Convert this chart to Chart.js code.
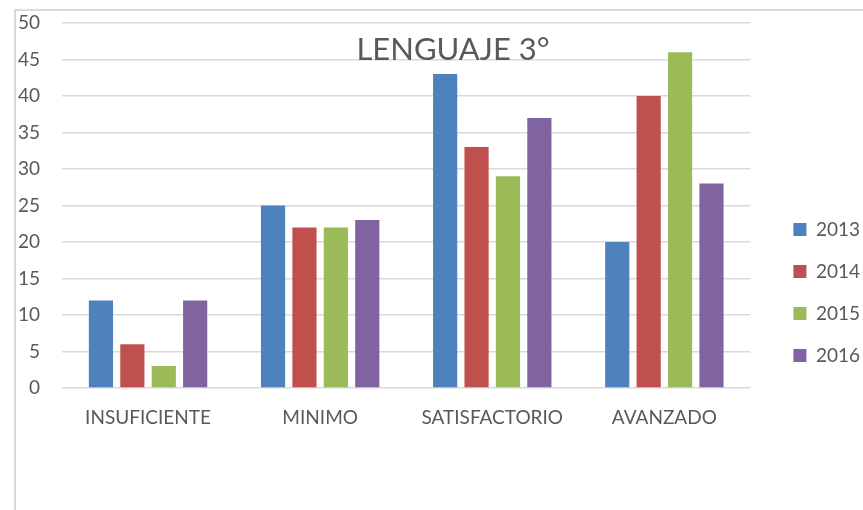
<!DOCTYPE html>
<html lang="es">
<head>
  <meta charset="UTF-8">
  <title>Lenguaje 3°</title>
  <script src="https://cdn.jsdelivr.net/npm/chart.js"></script>
  <style>
    body { margin: 0; background: #fff; }
    #frame {
      position: absolute; left: 14px; top: 9px; right: 0; bottom: 0;
      border-left: 2px solid #d9d9d9; border-top: 2px solid #d9d9d9;
    }
    #chart { position: absolute; left: 0; top: 0; }
  </style>
</head>
<body>
<div id="frame"></div>
<canvas id="chart" width="863" height="510"></canvas>

<script>
  // data
  const categories = ['INSUFICIENTE', 'MINIMO', 'SATISFACTORIO', 'AVANZADO'];
  const years = ['2013', '2014', '2015', '2016'];
  const values2013 = [12, 25, 43, 20];
  const values2014 = [6, 22, 33, 40];
  const values2015 = [3, 22, 29, 46];
  const values2016 = [12, 23, 37, 28];
  const yMax = 50;
  const yStep = 5;
  const chartTitle = 'LENGUAJE 3°';

  const colors = ['#4f81bd', '#c0504d', '#9bbb59', '#8064a2'];
  const textColor = '#595959';
  const font = 'Lato';

  // title sits inside the plot, over the grid
  const insideTitle = {
    id: 'insideTitle',
    afterDraw(chart) {
      const ctx = chart.ctx;
      ctx.save();
      ctx.font = '31px ' + font;
      ctx.fillStyle = textColor;
      ctx.textAlign = 'center';
      ctx.textBaseline = 'middle';
      ctx.fillText(chartTitle, 453, 50);
      ctx.restore();
    }
  };

  const series = [values2013, values2014, values2015, values2016];

  new Chart(document.getElementById('chart'), {
    type: 'bar',
    data: {
      labels: categories,
      datasets: years.map((y, i) => ({
        label: y,
        data: series[i],
        backgroundColor: colors[i],
        categoryPercentage: 0.73,
        barPercentage: 0.77
      }))
    },
    options: {
      responsive: false,
      animation: false,
      layout: { padding: { top: 23, left: 0, right: -7, bottom: 0 } },
      plugins: {
        tooltip: { enabled: false },
        title: { display: false },
        legend: {
          position: 'right',
          align: 'end',
          fullSize: false,
          labels: {
            boxWidth: 13,
            boxHeight: 13,
            padding: 23,
            color: textColor,
            font: { family: font, size: 19 }
          }
        }
      },
      scales: {
        x: {
          grid: { display: false, drawTicks: false },
          border: { display: false },
          ticks: { color: textColor, font: { family: font, size: 19 }, padding: 18 },
          afterFit(s) { s.height = 122; }
        },
        y: {
          min: 0,
          max: yMax,
          ticks: { stepSize: yStep, color: textColor, font: { family: font, size: 19 }, padding: 22 },
          grid: { color: '#d9d9d9', lineWidth: 1.5, drawTicks: false },
          border: { display: false },
          afterFit(s) {
            s.width = 62;
            s.paddingTop = 0;
            s.paddingBottom = 0;
          }
        },
        // empty right axis, only keeps the gap before the legend
        y2: {
          position: 'right',
          display: true,
          grid: { display: false, drawTicks: false },
          border: { display: false },
          ticks: { display: false },
          afterFit(s) { s.width = 20; }
        }
      }
    },
    plugins: [insideTitle]
  });
</script>
</body>
</html>
